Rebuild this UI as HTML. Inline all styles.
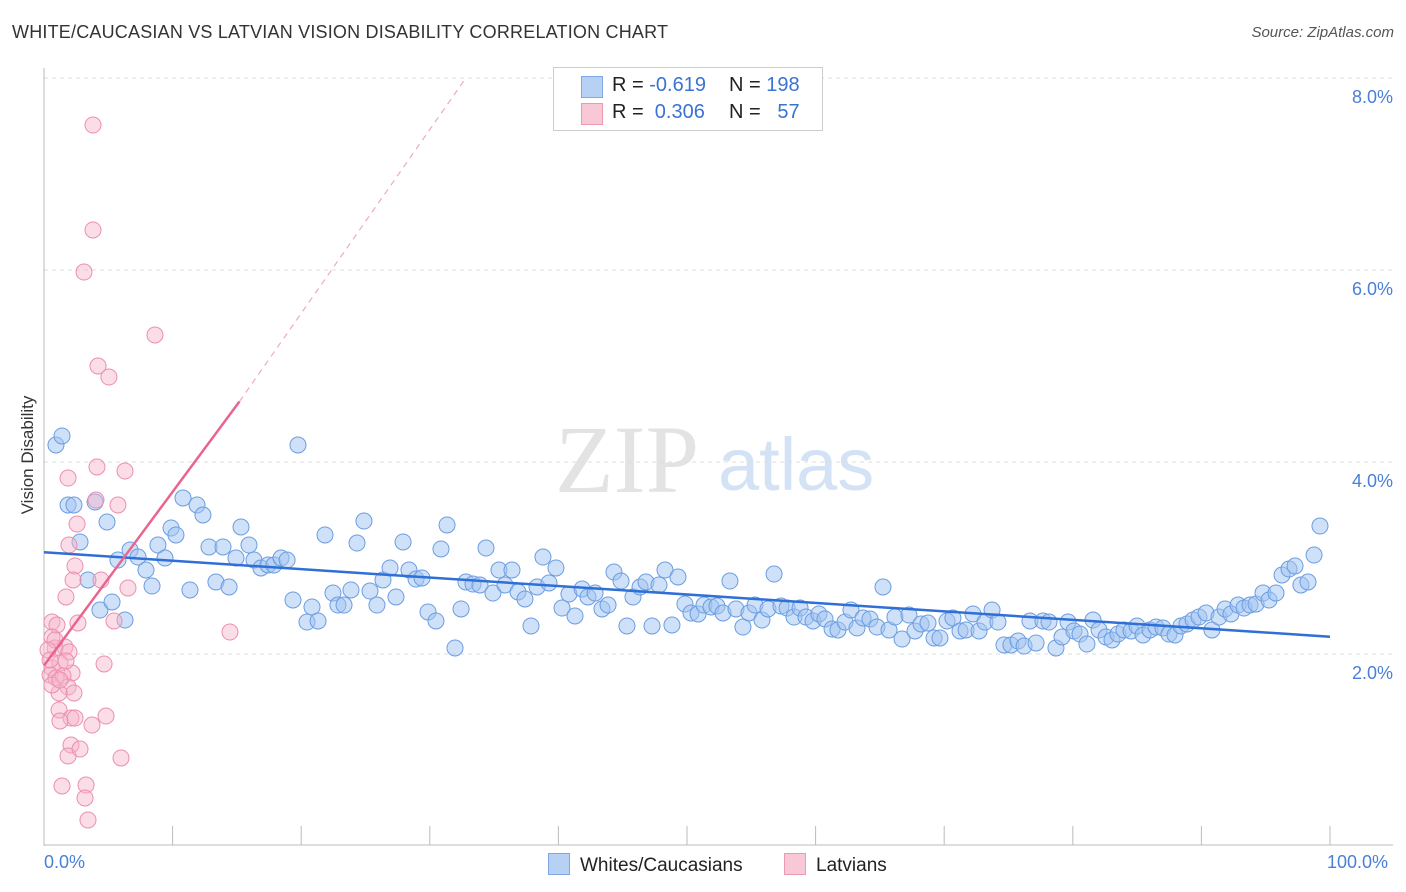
<!DOCTYPE html>
<html><head><meta charset="utf-8"><style>
body{margin:0;background:#fff;font-family:"Liberation Sans",sans-serif;}
#wrap{position:relative;width:1406px;height:892px;overflow:hidden;}
.t{position:absolute;white-space:nowrap;}
</style></head><body>
<div id="wrap">
<div class="t" style="left:12px;top:22px;font-size:18px;color:#333;letter-spacing:0.2px">WHITE/CAUCASIAN VS LATVIAN VISION DISABILITY CORRELATION CHART</div>
<div class="t" style="right:12px;top:24px;font-size:15px;color:#555;font-style:italic">Source: ZipAtlas.com</div>
<svg id="svg" width="1406" height="892" style="position:absolute;left:0;top:0"></svg>
<div class="t" style="left:28px;top:455px;font-size:17px;color:#333;transform:translate(-50%,-50%) rotate(-90deg)">Vision Disability</div>
<div class="t" style="left:44px;top:852px;font-size:18px;color:#4a7fd8">0.0%</div>
<div class="t" style="left:1327px;top:852px;font-size:18px;color:#4a7fd8">100.0%</div>
<div class="t" style="left:553px;top:67px;width:268px;height:62px;border:1px solid #ccc;background:#fff;font-size:20px;color:#222">
 <div style="position:absolute;left:27px;top:8px;width:20px;height:20px;background:#b7d1f5;border:1px solid #7ea7e6"></div>
 <div style="position:absolute;left:58px;top:6px">R = <span style="color:#3a73d1">-0.619</span></div>
 <div style="position:absolute;left:175px;top:6px">N = <span style="color:#3a73d1">198</span></div>
 <div style="position:absolute;left:27px;top:35px;width:20px;height:20px;background:#f8c8d6;border:1px solid #ec9ab3"></div>
 <div style="position:absolute;left:58px;top:33px">R = &nbsp;<span style="color:#3a73d1">0.306</span></div>
 <div style="position:absolute;left:175px;top:33px">N = &nbsp;&nbsp;<span style="color:#3a73d1">57</span></div>
</div>
<div class="t" style="left:548px;top:853px;font-size:19px;color:#222"><span style="display:inline-block;width:20px;height:20px;background:#b7d1f5;border:1px solid #7ea7e6;vertical-align:-4px;margin-right:10px"></span>Whites/Caucasians</div>
<div class="t" style="left:784px;top:853px;font-size:19px;color:#222"><span style="display:inline-block;width:20px;height:20px;background:#f8c8d6;border:1px solid #ec9ab3;vertical-align:-4px;margin-right:10px"></span>Latvians</div>
</div>
<script>
const yTicks=[2,4,6,8];
const yTickLabels=["2.0%","4.0%","6.0%","8.0%"];
const bluePx=[[56,445],[62,436],[68,505],[74,505],[80,542],[88,580],[95,502],[100,610],[107,522],[112,602],[118,560],[125,620],[130,550],[138,557],[146,570],[152,586],[158,545],[165,558],[171,528],[176,535],[183,498],[190,590],[197,505],[203,515],[209,547],[216,582],[223,547],[229,587],[236,558],[241,527],[249,545],[254,560],[261,568],[268,565],[274,565],[281,558],[287,560],[293,600],[298,445],[307,622],[312,607],[318,621],[325,535],[333,593],[338,605],[344,605],[351,590],[357,543],[364,521],[370,591],[377,605],[383,580],[390,568],[396,597],[403,542],[409,570],[416,579],[422,578],[428,612],[436,621],[441,549],[447,525],[455,648],[461,609],[466,582],[473,584],[480,585],[486,548],[493,593],[499,570],[505,585],[512,570],[518,592],[525,599],[531,626],[537,587],[543,557],[549,583],[556,568],[562,608],[569,594],[575,616],[582,589],[588,597],[595,593],[602,609],[608,605],[614,572],[621,581],[627,626],[633,597],[640,587],[646,582],[652,626],[659,585],[665,570],[672,625],[678,577],[685,604],[691,613],[698,614],[704,605],[711,607],[717,606],[723,613],[730,581],[736,609],[743,627],[749,613],[755,605],[762,620],[768,609],[774,574],[781,606],[787,608],[794,617],[800,608],[806,617],[813,621],[819,614],[825,619],[832,629],[838,630],[845,622],[851,610],[857,628],[863,618],[870,619],[877,627],[883,587],[889,630],[895,617],[902,639],[909,615],[915,631],[921,624],[928,623],[934,638],[940,638],[947,621],[953,618],[960,631],[966,630],[973,614],[979,631],[985,622],[992,610],[998,622],[1004,645],[1011,645],[1018,641],[1024,646],[1030,621],[1036,643],[1043,621],[1049,622],[1056,648],[1062,637],[1068,622],[1074,631],[1080,634],[1087,644],[1093,620],[1099,630],[1106,637],[1112,640],[1118,634],[1124,630],[1131,631],[1137,626],[1143,635],[1150,630],[1156,627],[1163,628],[1169,634],[1175,635],[1181,626],[1187,624],[1193,620],[1199,617],[1206,613],[1212,630],[1219,617],[1225,609],[1231,614],[1238,605],[1244,608],[1250,605],[1256,604],[1263,593],[1269,600],[1276,593],[1282,575],[1289,569],[1295,566],[1301,585],[1308,582],[1314,555],[1320,526]];
const pinkPx=[[93,125],[93,230],[84,272],[155,335],[98,366],[109,377],[68,478],[97,467],[125,471],[96,500],[118,505],[77,524],[69,545],[75,566],[73,580],[101,580],[128,588],[66,597],[52,622],[57,625],[78,623],[114,621],[230,632],[52,637],[65,647],[55,648],[69,652],[104,664],[52,668],[60,663],[72,673],[50,675],[56,678],[63,676],[68,687],[74,693],[59,693],[59,710],[71,718],[75,718],[60,721],[92,725],[106,716],[71,745],[68,756],[80,749],[121,758],[86,785],[62,786],[85,798],[88,820],[52,685],[55,640],[48,650],[66,661],[60,680],[50,660]];
// convert estimated readings into data units (x: %, y: %)
const blueX=bluePx.map(p=>+((p[0]-44)/12.86).toFixed(2));
const blueY=bluePx.map(p=>+((846-p[1])/96).toFixed(3));
const pinkX=pinkPx.map(p=>+((p[0]-44)/12.86).toFixed(2));
const pinkY=pinkPx.map(p=>+((846-p[1])/96).toFixed(3));
const blueTrend=[[0,3.06],[100,2.18]];
const pinkTrend=[[0,1.88],[15.2,4.63],[32.7,7.98]];
const X=v=>44+v*12.86, Y=v=>846-v*96;
const svg=document.getElementById('svg');const NS='http://www.w3.org/2000/svg';
function mk(t,a){const e=document.createElementNS(NS,t);for(const k in a)e.setAttribute(k,a[k]);svg.appendChild(e);return e;}
// watermark
let w=mk('text',{x:555,y:492,'font-size':96,fill:'#e3e3e3','font-family':'Liberation Serif,serif'});w.textContent='ZIP';


let w2=mk('text',{x:718,y:490,'font-size':74,fill:'#d3e2f5','font-family':'Liberation Sans,sans-serif'});w2.textContent='atlas';


yTicks.forEach((v,i)=>{
 const g=mk('line',{x1:44,x2:1393,y1:Y(v),y2:Y(v),stroke:'#ddd','stroke-dasharray':'4,4'});
 
 
 const t=mk('text',{x:1393,y:Y(v)+25,'text-anchor':'end','font-size':18,fill:'#4a7fd8','font-family':'Liberation Sans,sans-serif'});t.textContent=yTickLabels[i];
 
 
});
let ya=mk('line',{x1:44,x2:44,y1:68,y2:846,stroke:'#bbb'});


let xa=mk('line',{x1:44,x2:1393,y1:845,y2:845,stroke:'#bbb'});


for(let i=0;i<=10;i++){const tk=mk('line',{x1:X(i*10),x2:X(i*10),y1:826,y2:845,stroke:'#bbb'});
 
 }
blueX.forEach((x,i)=>{const c=mk('circle',{cx:X(x),cy:Y(blueY[i]),r:8,fill:'rgba(160,196,242,0.5)',stroke:'#6b9de0','stroke-width':1});
 
 });
pinkX.forEach((x,i)=>{const c=mk('circle',{cx:X(x),cy:Y(pinkY[i]),r:8,fill:'rgba(246,180,202,0.45)',stroke:'#ec8fae','stroke-width':1});
 
 });
let bl=mk('line',{x1:X(blueTrend[0][0]),y1:Y(blueTrend[0][1]),x2:X(blueTrend[1][0]),y2:Y(blueTrend[1][1]),stroke:'#2f6fd6','stroke-width':2.5});


let pl=mk('line',{x1:X(pinkTrend[0][0]),y1:Y(pinkTrend[0][1]),x2:X(pinkTrend[1][0]),y2:Y(pinkTrend[1][1]),stroke:'#e8658f','stroke-width':2.5});


let pd=mk('line',{x1:X(pinkTrend[1][0]),y1:Y(pinkTrend[1][1]),x2:X(pinkTrend[2][0]),y2:Y(pinkTrend[2][1]),stroke:'#eeaac0','stroke-width':1.2,'stroke-dasharray':'6,5'});


</script>
</body></html>
